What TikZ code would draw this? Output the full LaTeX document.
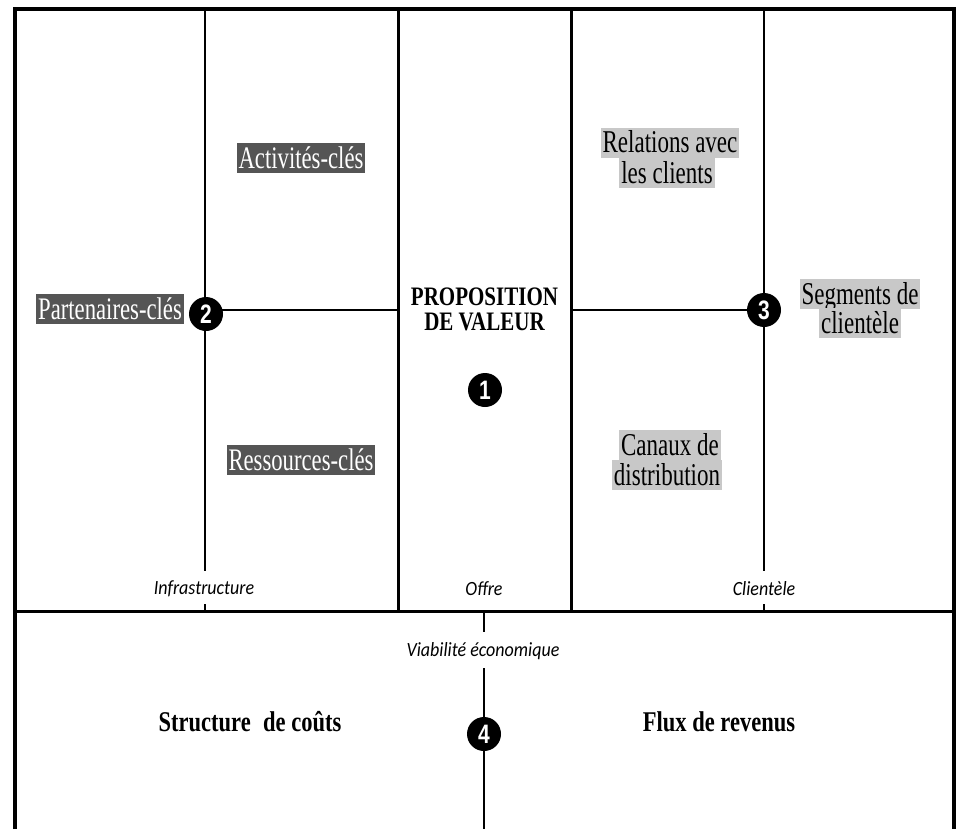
\documentclass[tikz,border=0pt]{standalone}
\usepackage{fontspec}
\usepackage{graphicx}
\setmainfont{Liberation Serif}
\newfontfamily\carl{Carlito}
\newfontfamily\lsans{Liberation Sans}
\newcommand{\tlr}[1]{\scalebox{1}[1.38]{#1}}
\newcommand{\tl}[1]{\scalebox{1}[1.27]{#1}}
\newcommand{\tli}[1]{\scalebox{1}[1.12]{#1}}
\definecolor{darkbox}{HTML}{555555}
\definecolor{lightbox}{HTML}{C8C8C8}
\tikzset{
  frameline/.style={line width=4pt, line join=miter},
  thickline/.style={line width=3pt},
  thinline/.style={line width=1.2pt},
  darklbl/.style={fill=darkbox, text=white, font=\fontsize{22.7}{24}\selectfont,
    inner xsep=2pt, inner ysep=1pt, text height=24pt, text depth=4pt},
  lightlbl/.style={fill=lightbox, text=black, font=\fontsize{23}{24}\selectfont,
    inner xsep=2pt, inner ysep=1pt, text height=24pt, text depth=4pt},
  boldlbl/.style={font=\bfseries\fontsize{21}{24}\selectfont, inner sep=0pt},
  bigbold/.style={font=\bfseries\fontsize{22.5}{26}\selectfont, inner sep=0pt},
  itlbl/.style={font=\carl\itshape\fontsize{18}{20}\selectfont, inner sep=0pt},
  numc/.style={circle, fill=black, text=white, minimum size=34pt, inner sep=0pt,
    font=\lsans\bfseries\fontsize{21}{22}\selectfont},
}
\begin{document}
\begin{tikzpicture}[x=1pt, y=-1pt]
\useasboundingbox (0,0) rectangle (957,829);
% coordinates
\coordinate (tl) at (15,829);
\coordinate (tl2) at (15,9);
\coordinate (tr2) at (954,9);
\coordinate (tr) at (954,829);
% thin lines
\draw[thinline] (205,9) -- (205,571);
\draw[thinline] (205,604) -- (205,611);
\draw[thinline] (764,9) -- (764,571);
\draw[thinline] (764,604) -- (764,611);
\draw[thinline] (205,310) -- (398,310);
\draw[thinline] (571,310) -- (764,310);
\draw[thinline] (484,611) -- (484,632);
\draw[thinline] (484,668) -- (484,829);
% thick lines
\draw[thickline] (398,9) -- (398,611);
\draw[thickline] (571,9) -- (571,611);
\draw[thickline] (15,611) -- (954,611);
\draw[frameline] (tl) -- (tl2) -- (tr2) -- (tr);
% labels
\node[darklbl] (act) at (301,158) {\tlr{Activités-clés}};
\node[darklbl] (part) at (110,309) {\tlr{Partenaires-clés}};
\node[darklbl] (res) at (301,460) {\tlr{Ressources-clés}};
\node[lightlbl] (rel1) at (670,143) {\tlr{Relations avec}};
\node[lightlbl] (rel2) at (667,173) {\tlr{les clients}};
\node[lightlbl] (seg1) at (860,294) {\tlr{Segments de}};
\node[lightlbl] (seg2) at (860,323) {\tlr{clientèle}};
\node[lightlbl] (can1) at (670,445) {\tlr{Canaux de}};
\node[lightlbl] (can2) at (667,475) {\tlr{distribution}};
\node[boldlbl] (prop1) at (484.5,297) {\tl{PROPOSITION}};
\node[boldlbl] (prop2) at (484.5,322) {\tl{DE VALEUR}};
\node[bigbold] (cost) at (250,722) {\tl{Structure\hspace{0.3em} de coûts}};
\node[bigbold] (flux) at (719,722) {\tl{Flux de revenus}};
\node[itlbl] (infra) at (204,589) {\tli{Infrastructure}};
\node[itlbl] (offre) at (484,589) {\tli{Offre}};
\node[itlbl] (cli) at (764,589) {\tli{Clientèle}};
\node[itlbl] (viab) at (483,651) {\tli{Viabilité économique}};
% numbers
\node[numc] (n1) at (485,390) {\tl{1}};
\node[numc] (n2) at (206,314) {\tl{2}};
\node[numc] (n3) at (764,310) {\tl{3}};
\node[numc] (n4) at (484,734) {\tl{4}};
\end{tikzpicture}
\end{document}
